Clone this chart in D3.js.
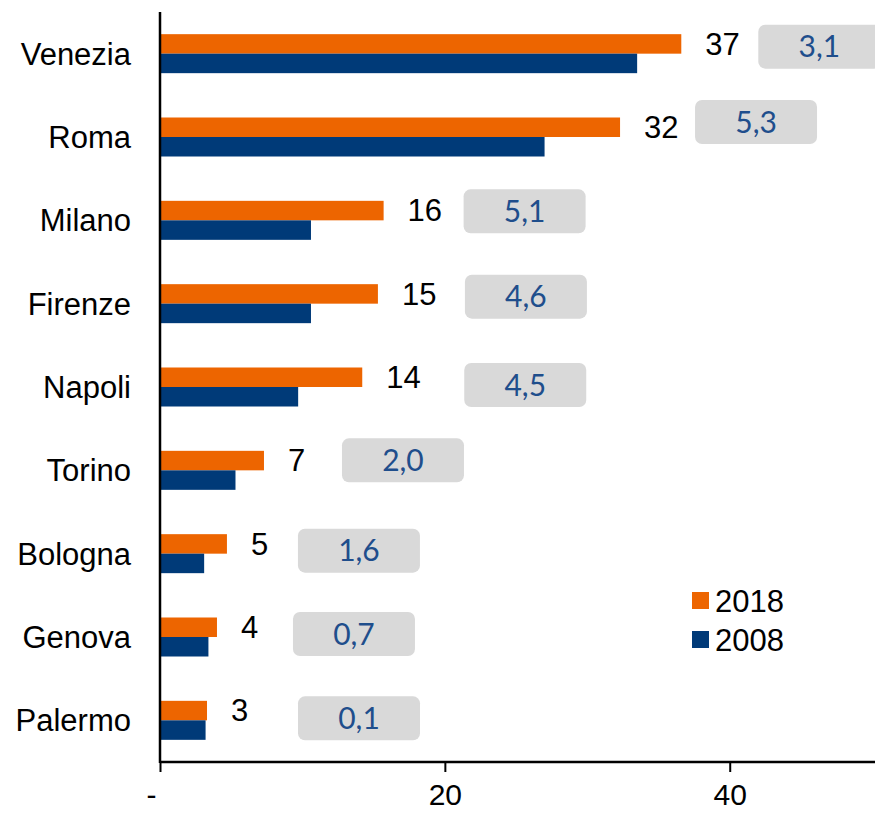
<!DOCTYPE html>
<html>
<head>
<meta charset="utf-8">
<script src="https://cdn.jsdelivr.net/npm/d3@7"></script>
<style>
    body { margin: 0; background: #fff; }
    svg { display: block; font-family: "Liberation Sans", Arial, sans-serif; }
</style>
</head>
<body>
<div id="main"></div>
<script>
// data
var cities = ["Venezia", "Roma", "Milano", "Firenze", "Napoli", "Torino", "Bologna", "Genova", "Palermo"];
var values2018 = [36.6, 32.3, 15.7, 15.3, 14.2, 7.3, 4.7, 4.0, 3.3];
var values2008 = [33.5, 27.0, 10.6, 10.6, 9.7, 5.3, 3.1, 3.4, 3.2];
var boxLabels = ["3,1", "5,3", "5,1", "4,6", "4,5", "2,0", "1,6", "0,7", "0,1"];
var seriesNames = ["2018", "2008"];
var xTicks = [0, 20, 40];

// layout tweaks for the grey boxes (px, relative to default spot)
var boxShift = [[0, 0], [-2, -8], [3, -2], [10, 0], [25, 5], [1, -3], [-6, 4], [-1, 4], [14, 5]];

var colors = {"2018": "#ed6500", "2008": "#003a78"};
var width = 875, height = 813;
var fs = "31px";

var vis = function(root) {
    var svg = root.append("svg")
        .attr("width", width)
        .attr("height", height);

    var x = d3.scaleLinear().domain([0, 50.2]).range([160, 875]);
    var y = d3.scaleBand().domain(cities).range([12, 762]).paddingInner(0).paddingOuter(0);
    var barH = 19.5;

    // bars
    var groups = svg.selectAll(".city")
        .data(cities)
        .enter()
        .append("g")
        .attr("class", "city");

    groups.append("rect")
        .attr("x", x(0))
        .attr("y", function(d) { return y(d) + y.bandwidth() / 2 - barH; })
        .attr("width", function(d, i) { return x(values2018[i]) - x(0); })
        .attr("height", barH)
        .style("fill", colors["2018"]);

    groups.append("rect")
        .attr("x", x(0))
        .attr("y", function(d) { return y(d) + y.bandwidth() / 2; })
        .attr("width", function(d, i) { return x(values2008[i]) - x(0); })
        .attr("height", barH)
        .style("fill", colors["2008"]);

    // value labels
    groups.append("text")
        .attr("x", function(d, i) { return x(values2018[i]) + 24; })
        .attr("y", function(d) { return y(d) + y.bandwidth() / 2 - barH / 2; })
        .attr("dy", "0.35em")
        .style("font-size", fs)
        .style("fill", "#000")
        .text(function(d, i) { return Math.round(values2018[i]); });

    // grey boxes
    var boxW = 122, boxH = 44;
    var boxes = groups.append("g")
        .attr("transform", function(d, i) {
            var bx = x(values2018[i]) + 77 + boxShift[i][0];
            var by = y(d) + y.bandwidth() / 2 - 7 + boxShift[i][1] - boxH / 2;
            return "translate(" + bx + "," + by + ")";
        });
    boxes.append("rect")
        .attr("width", boxW)
        .attr("height", boxH)
        .attr("rx", 7)
        .style("fill", "#d9d9d9");
    boxes.append("text")
        .attr("x", boxW / 2)
        .attr("y", boxH / 2)
        .attr("dy", "0.36em")
        .attr("text-anchor", "middle")
        .style("font-family", "Lato, 'Open Sans', sans-serif")
        .style("font-size", "30px")
        .style("fill", "#1f4e8c")
        .text(function(d, i) { return boxLabels[i]; });

    // category labels
    svg.selectAll(".cat")
        .data(cities)
        .enter()
        .append("text")
        .attr("class", "cat")
        .attr("x", 131)
        .attr("y", function(d) { return y(d) + y.bandwidth() / 2; })
        .attr("dy", "0.35em")
        .attr("text-anchor", "end")
        .style("font-size", fs)
        .style("fill", "#000")
        .text(function(d) { return d; });

    // axes
    var xAxis = d3.axisBottom(x)
        .tickValues(xTicks)
        .tickSize(10)
        .tickFormat(function(d) { return d === 0 ? "-" : d; });
    var gx = svg.append("g")
        .attr("transform", "translate(0,762)")
        .call(xAxis);
    gx.select(".domain").attr("stroke", "#000").attr("stroke-width", 2.5)
        .attr("d", "M" + x(0) + ",0H" + width);
    gx.selectAll(".tick line").attr("stroke", "#000").attr("stroke-width", 2);
    gx.selectAll(".tick text")
        .attr("y", 43)
        .attr("dy", null)
        .style("font-size", "30px")
        .style("font-family", "'Liberation Sans', Arial, sans-serif")
        .style("fill", "#000")
        .attr("dx", function(d) { return d === 0 ? -9 : 0; });

    svg.append("line")
        .attr("x1", x(0)).attr("x2", x(0))
        .attr("y1", 12).attr("y2", 763)
        .attr("stroke", "#000")
        .attr("stroke-width", 2.5);

    // legend
    var legend = svg.selectAll(".legend")
        .data(seriesNames)
        .enter()
        .append("g")
        .attr("class", "legend")
        .attr("transform", function(d, i) { return "translate(692," + (592 + i * 39) + ")"; });
    legend.append("rect")
        .attr("width", 17)
        .attr("height", 17)
        .style("fill", function(d) { return colors[d]; });
    legend.append("text")
        .attr("x", 23)
        .attr("y", 8.5)
        .attr("dy", "0.36em")
        .style("font-size", fs)
        .style("fill", "#000")
        .text(function(d) { return d; });
};

vis(d3.select("#main"));
</script>
</body>
</html>
